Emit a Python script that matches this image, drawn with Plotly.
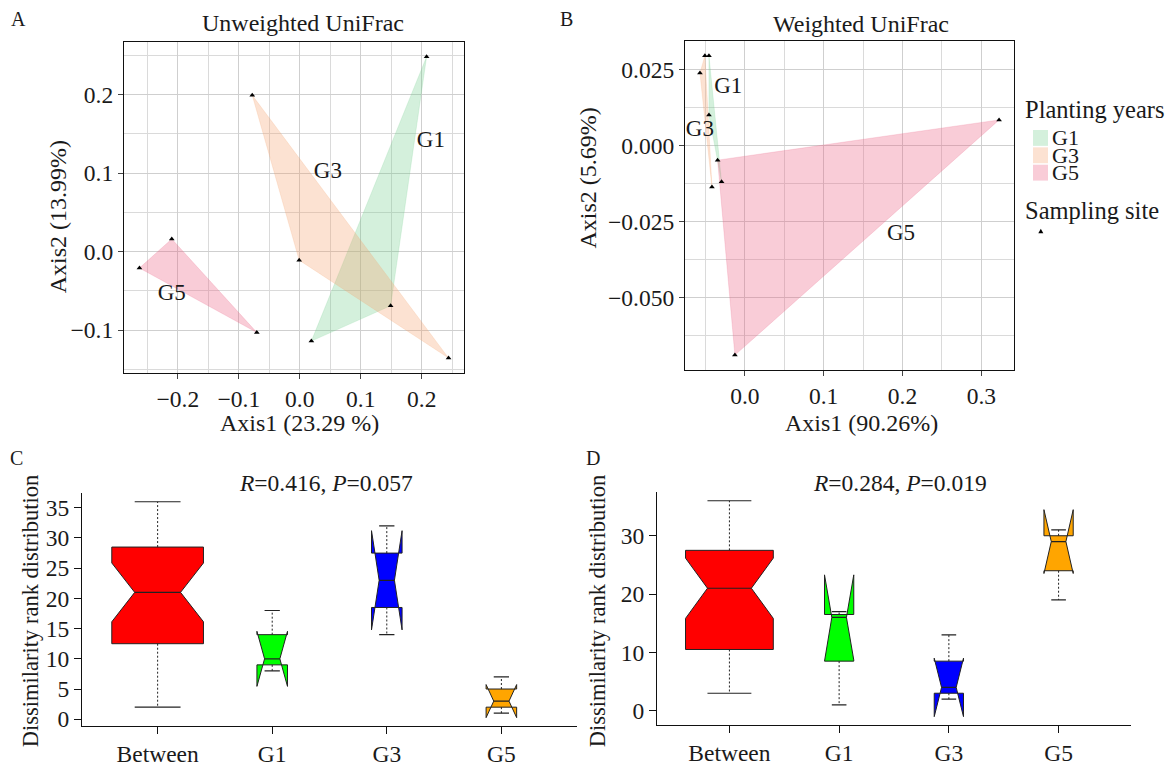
import numpy as np
import plotly.graph_objects as go

W, H = 1171, 768
FONT = "Liberation Serif, Times New Roman, serif"
TXT = "#1a1a1a"
TICK = 23.5
TITLE = 24

# ---------------- Panel A: Unweighted UniFrac (PCoA) ----------------
a_g1_x = [0.208, 0.149, 0.019]
a_g1_y = [0.248, -0.069, -0.114]
a_g3_x = [-0.078, -0.001, 0.244]
a_g3_y = [0.199, -0.011, -0.1355]
a_g5_x = [-0.210, -0.263, -0.0705]
a_g5_y = [0.016, -0.021, -0.103]
a_label_text = ["G1", "G3", "G5"]
a_label_x = [0.215, 0.046, -0.210]
a_label_y = [0.141, 0.101, -0.054]

# ---------------- Panel B: Weighted UniFrac (PCoA) ----------------
b_g1_x = [-0.0455, -0.0455, -0.0295]
b_g1_y = [0.0295, 0.0100, -0.0119]
b_g3_x = [-0.0569, -0.0506, -0.0417]
b_g3_y = [0.0238, 0.0295, -0.0136]
b_g5_x = [-0.0345, 0.3224, -0.0126]
b_g5_y = [-0.0048, 0.0084, -0.0688]
b_label_text = ["G1", "G3", "G5"]
b_label_x = [-0.021, -0.057, 0.198]
b_label_y = [0.019, 0.005, -0.029]

# ---------------- Panels C/D: ANOSIM rank boxplots ----------------
box_groups = ["Between", "G1", "G3", "G5"]
box_colors = ["#FF0000", "#00FF00", "#0000FF", "#FFA500"]
box_n = [27, 3, 3, 3]

c_whisk_lo = [2, 8, 14, 1]
c_q1 = [12.5, 9, 18.5, 2]
c_median = [21, 10, 23, 3]
c_q3 = [28.5, 14, 27.5, 5]
c_whisk_hi = [36, 18, 32, 7]

d_whisk_lo = [3, 1, 2, 19]
d_q1 = [10.5, 8.5, 3, 24]
d_median = [21, 16, 4, 29]
d_q3 = [27.5, 16.5, 8.5, 30]
d_whisk_hi = [36, 17, 13, 31]

group_fill = {"G1": "rgba(112,205,138,0.30)",
              "G3": "rgba(245,158,105,0.30)",
              "G5": "rgba(235,95,130,0.32)"}


def px_x(p):
    return p / W


def px_y(p):
    return 1 - p / H


def expand(vals, frac):
    lo, hi = min(vals), max(vals)
    pad = (hi - lo) * frac
    return [lo - pad, hi + pad]


fig = go.Figure()


# ---- PCoA panels ----
def add_pcoa(groups, lbl_x, lbl_y, lbl_t, xa, ya):
    for name, xs, ys in groups:
        fig.add_trace(go.Scatter(x=xs + [xs[0]], y=ys + [ys[0]], fill="toself",
                                 fillcolor=group_fill[name], mode="lines",
                                 line=dict(width=0.6, color=group_fill[name]),
                                 showlegend=False, hoverinfo="skip",
                                 xaxis=xa, yaxis=ya))
    for name, xs, ys in groups:
        fig.add_trace(go.Scatter(x=xs, y=ys, mode="markers",
                                 marker=dict(symbol="triangle-up", size=5, color="black"),
                                 showlegend=False, xaxis=xa, yaxis=ya))
    fig.add_trace(go.Scatter(x=lbl_x, y=lbl_y, text=lbl_t, mode="text",
                             textfont=dict(family=FONT, size=23, color=TXT),
                             showlegend=False, xaxis=xa, yaxis=ya))


add_pcoa([("G1", a_g1_x, a_g1_y), ("G3", a_g3_x, a_g3_y), ("G5", a_g5_x, a_g5_y)],
         a_label_x, a_label_y, a_label_text, "x", "y")
add_pcoa([("G1", b_g1_x, b_g1_y), ("G3", b_g3_x, b_g3_y), ("G5", b_g5_x, b_g5_y)],
         b_label_x, b_label_y, b_label_text, "x2", "y2")


# ---- notched boxplots (R style) ----
def add_boxes(wlo, q1, med, q3, whi, xa, ya):
    max_sqrt = max(np.sqrt(box_n))
    for i, g in enumerate(box_groups):
        x = i + 1
        w = 0.4 * np.sqrt(box_n[i]) / max_sqrt
        half_conf = 1.58 * (q3[i] - q1[i]) / np.sqrt(box_n[i])
        clo, chi = med[i] - half_conf, med[i] + half_conf
        nf = 0.5
        xs = [x - w, x + w, x + w, x + nf * w, x + w, x + w, x - w, x - w, x - nf * w, x - w, x - w]
        ys = [q1[i], q1[i], clo, med[i], chi, q3[i], q3[i], chi, med[i], clo, q1[i]]
        fig.add_trace(go.Scatter(x=xs, y=ys, fill="toself", fillcolor=box_colors[i],
                                 mode="lines", line=dict(color="#222", width=1),
                                 showlegend=False, hoverinfo="skip", xaxis=xa, yaxis=ya))
        # median
        fig.add_trace(go.Scatter(x=[x - nf * w, x + nf * w], y=[med[i], med[i]], mode="lines",
                                 line=dict(color="#222", width=1.2),
                                 showlegend=False, hoverinfo="skip", xaxis=xa, yaxis=ya))
        # whiskers
        fig.add_trace(go.Scatter(x=[x, x, None, x, x], y=[q3[i], whi[i], None, q1[i], wlo[i]],
                                 mode="lines", line=dict(color="#222", width=1, dash="2px,2px"),
                                 showlegend=False, hoverinfo="skip", xaxis=xa, yaxis=ya))
        # staples
        sw = 0.5 * w
        fig.add_trace(go.Scatter(x=[x - sw, x + sw, None, x - sw, x + sw],
                                 y=[whi[i], whi[i], None, wlo[i], wlo[i]],
                                 mode="lines", line=dict(color="#222", width=1.2),
                                 showlegend=False, hoverinfo="skip", xaxis=xa, yaxis=ya))
    confs = [m + s * 1.58 * (b - a) / np.sqrt(n) for m, a, b, n in zip(med, q1, q3, box_n) for s in (-1, 1)]
    return expand(list(wlo) + list(whi) + confs, 0.04)


c_yrange = add_boxes(c_whisk_lo, c_q1, c_median, c_q3, c_whisk_hi, "x3", "y3")
d_yrange = add_boxes(d_whisk_lo, d_q1, d_median, d_q3, d_whisk_hi, "x4", "y4")


def pcoa_axis(dom, rng, dtick, minor, fmt):
    return dict(domain=dom, range=rng, dtick=dtick, tick0=0, tickformat=fmt,
                showgrid=True, gridcolor="#cfcfcf", gridwidth=1,
                minor=dict(dtick=minor, tick0=0, showgrid=True, gridcolor="#dadada", gridwidth=1),
                showline=True, linecolor="#111", linewidth=1.3, mirror=True,
                ticks="outside", ticklen=5, tickcolor="#444",
                tickfont=dict(family=FONT, size=TICK, color=TXT), zeroline=False)


def box_xaxis(dom):
    return dict(domain=dom, range=[0.5 - 0.16, 4.5 + 0.16], tickvals=[1, 2, 3, 4], ticktext=box_groups,
                showline=True, linecolor="#111", linewidth=1, mirror=False, ticks="outside",
                ticklen=7, tickcolor="#111", showgrid=False, zeroline=False,
                tickfont=dict(family=FONT, size=TICK, color=TXT))


def box_yaxis(dom, rng, dtick):
    return dict(domain=dom, range=rng, dtick=dtick, tick0=0,
                showline=True, linecolor="#111", linewidth=1, mirror=False, ticks="outside",
                ticklen=7, tickcolor="#111", showgrid=False, zeroline=False,
                tickfont=dict(family=FONT, size=TICK, color=TXT))


a_xr = expand(a_g1_x + a_g3_x + a_g5_x, 0.05)
a_yr = expand(a_g1_y + a_g3_y + a_g5_y, 0.05)
b_xr = expand(b_g1_x + b_g3_x + b_g5_x, 0.05)
b_yr = expand(b_g1_y + b_g3_y + b_g5_y, 0.05)

fig.update_layout(
    width=W, height=H, margin=dict(l=0, r=0, t=0, b=0),
    paper_bgcolor="white", plot_bgcolor="white", showlegend=False,
    font=dict(family=FONT, color=TXT),
    xaxis=pcoa_axis([px_x(124), px_x(464)], a_xr, 0.1, 0.05, ".1f"),
    yaxis=pcoa_axis([px_y(376), px_y(42)], a_yr, 0.1, 0.05, ".1f"),
    xaxis2=pcoa_axis([px_x(685), px_x(1014)], b_xr, 0.1, 0.05, ".1f"),
    yaxis2=pcoa_axis([px_y(373), px_y(41)], b_yr, 0.025, 0.0125, ".3f"),
    xaxis3=box_xaxis([px_x(82), px_x(577)]),
    yaxis3=box_yaxis([px_y(732), px_y(497)], c_yrange, 5),
    xaxis4=box_xaxis([px_x(657), px_x(1131)]),
    yaxis4=box_yaxis([px_y(731), px_y(496)], d_yrange, 10),
)
fig.layout.yaxis2.anchor = "x2"
fig.layout.xaxis2.anchor = "y2"
fig.layout.yaxis3.anchor = "x3"
fig.layout.xaxis3.anchor = "y3"
fig.layout.yaxis4.anchor = "x4"
fig.layout.xaxis4.anchor = "y4"


def ann(text, x, y, size, angle=0):
    fig.add_annotation(text=text, x=px_x(x), y=px_y(y), xref="paper", yref="paper",
                       showarrow=False, textangle=angle, xanchor="center", yanchor="middle",
                       font=dict(family=FONT, size=size, color=TXT))


ann("A", 18, 19, 20)
ann("B", 566, 19, 20)
ann("C", 16, 462, 20)
ann("D", 593, 462, 20)
ann("Unweighted UniFrac", 303, 23, TITLE)
ann("Weighted UniFrac", 861, 24, TITLE)
ann("Axis1 (23.29 %)", 300, 426, TITLE)
ann("Axis1 (90.26%)", 861, 426, TITLE)
ann("Axis2 (13.99%)", 58, 219, TITLE, -90)
ann("Axis2 (5.69%)", 588, 180, TITLE, -90)
ann("Dissimilarity rank distribution", 30, 616, 22.5, -90)
ann("Dissimilarity rank distribution", 597, 616, 22.5, -90)
ann("<i>R</i>=0.416, <i>P</i>=0.057", 326, 487, 23.5)
ann("<i>R</i>=0.284, <i>P</i>=0.019", 900, 487, 23.5)

# ---- legend ----
fig.add_annotation(text="Planting years", x=px_x(1023), y=px_y(110), xref="paper", yref="paper",
                   showarrow=False, xanchor="left", yanchor="middle",
                   font=dict(family=FONT, size=24.5, color=TXT))
for i, g in enumerate(["G1", "G3", "G5"]):
    top = 131 + i * 17.5
    fig.add_shape(type="rect", xref="paper", yref="paper",
                  x0=px_x(1033), x1=px_x(1048), y0=px_y(top + 16), y1=px_y(top),
                  fillcolor=group_fill[g], line=dict(width=0))
    fig.add_annotation(text=g, x=px_x(1050), y=px_y(top + 8), xref="paper", yref="paper",
                       showarrow=False, xanchor="left", yanchor="middle",
                       font=dict(family=FONT, size=22, color=TXT))
fig.add_annotation(text="Sampling site", x=px_x(1023), y=px_y(212), xref="paper", yref="paper",
                   showarrow=False, xanchor="left", yanchor="middle",
                   font=dict(family=FONT, size=24.5, color=TXT))
fig.add_shape(type="path", xref="paper", yref="paper",
              path=f"M {px_x(1038.3)} {px_y(235)} L {px_x(1043.3)} {px_y(235)} L {px_x(1040.8)} {px_y(230.5)} Z",
              fillcolor="black", line=dict(width=0))

fig.write_html("out.html", config={"displayModeBar": False},
               post_script="document.body.style.margin='0px';document.body.style.overflow='hidden';")
